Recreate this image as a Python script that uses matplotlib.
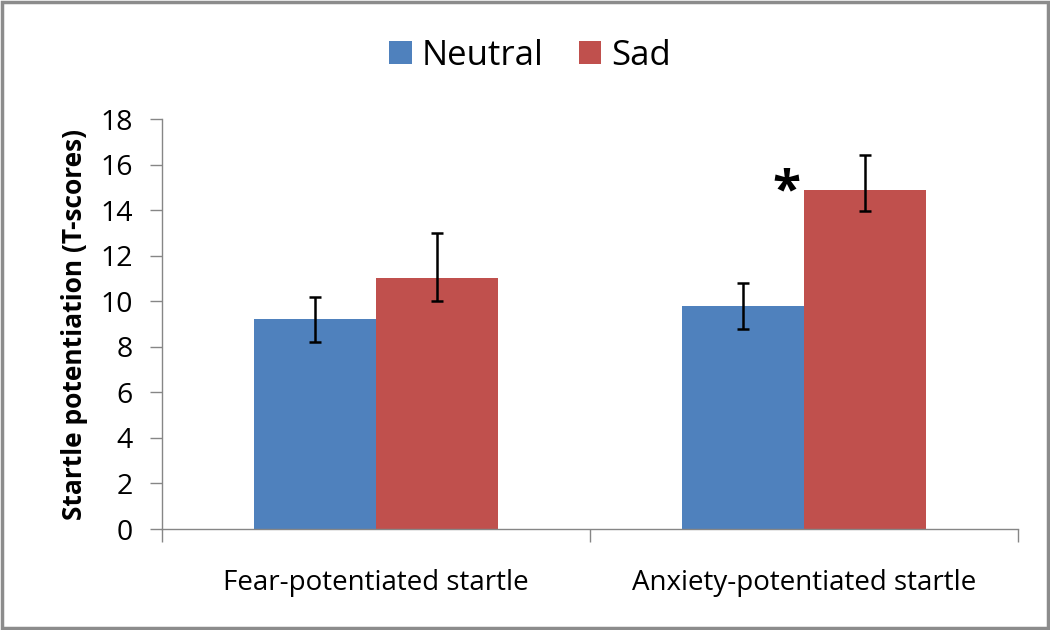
import numpy as np
import matplotlib.pyplot as plt
from matplotlib.patches import Rectangle

plt.rcParams['font.family'] = ['Open Sans', 'DejaVu Sans']

categories = ['Fear-potentiated startle', 'Anxiety-potentiated startle']
series = ['Neutral', 'Sad']
neutral = [9.2, 9.8]
sad = [11.0, 14.9]
# asymmetric error bars: (below, above)
neutral_err = [[1.0, 1.0], [1.0, 1.0]]
sad_err = [[1.0, 0.95], [2.0, 1.5]]
colors = ['#4F81BD', '#C0504D']

fig = plt.figure(figsize=(10.5, 6.3), dpi=100)
ax = fig.add_axes([0.1543, 0.1603, 0.8152, 0.6508])

x = np.arange(len(categories))
w = 0.285
ax.bar(x - w / 2, neutral, w, color=colors[0], label=series[0], zorder=2)
ax.bar(x + w / 2, sad, w, color=colors[1], label=series[1], zorder=2)
ax.errorbar(x - w / 2, neutral, yerr=neutral_err, fmt='none', ecolor='black',
            elinewidth=1.8, capsize=4.5, capthick=1.8, zorder=3)
ax.errorbar(x + w / 2, sad, yerr=sad_err, fmt='none', ecolor='black',
            elinewidth=1.8, capsize=4.5, capthick=1.8, zorder=3)

# significance marker
ax.text(x[1] - 0.042, 14.2, '*', ha='center', va='baseline',
        fontsize=37, fontweight='bold', color='black')

ax.set_xlim(-0.5, 1.5)
ax.set_ylim(0, 18)
ax.set_yticks(np.arange(0, 19, 2))
ax.set_xticks(x)
ax.set_xticklabels(categories, fontsize=20)
ax.tick_params(axis='x', length=0, pad=29)
ax.set_xticks([-0.5, 0.5, 1.5], minor=True)
ax.tick_params(axis='x', which='minor', length=9, color='#868686', width=1)
ax.tick_params(axis='y', labelsize=20.5, length=9, color='#868686', width=1, pad=12)

for s in ['top', 'right']:
    ax.spines[s].set_visible(False)
for s in ['left', 'bottom']:
    ax.spines[s].set_color('#868686')
    ax.spines[s].set_linewidth(1)

ax.set_ylabel('Startle potentiation (T-scores)', fontsize=19, fontweight='bold', labelpad=9)

ax.legend(loc='center', bbox_to_anchor=(0.505, 0.911), bbox_transform=fig.transFigure,
          ncol=2, frameon=False, fontsize=25, handlelength=0.65, handleheight=0.65,
          handletextpad=0.3, columnspacing=1.0)

# outer border
fig.patches.append(Rectangle((0.002, 0.003), 0.996, 0.994, transform=fig.transFigure,
                             fill=False, edgecolor='#8c8c8c', linewidth=2.5))

fig.savefig('out.png', dpi=100)
